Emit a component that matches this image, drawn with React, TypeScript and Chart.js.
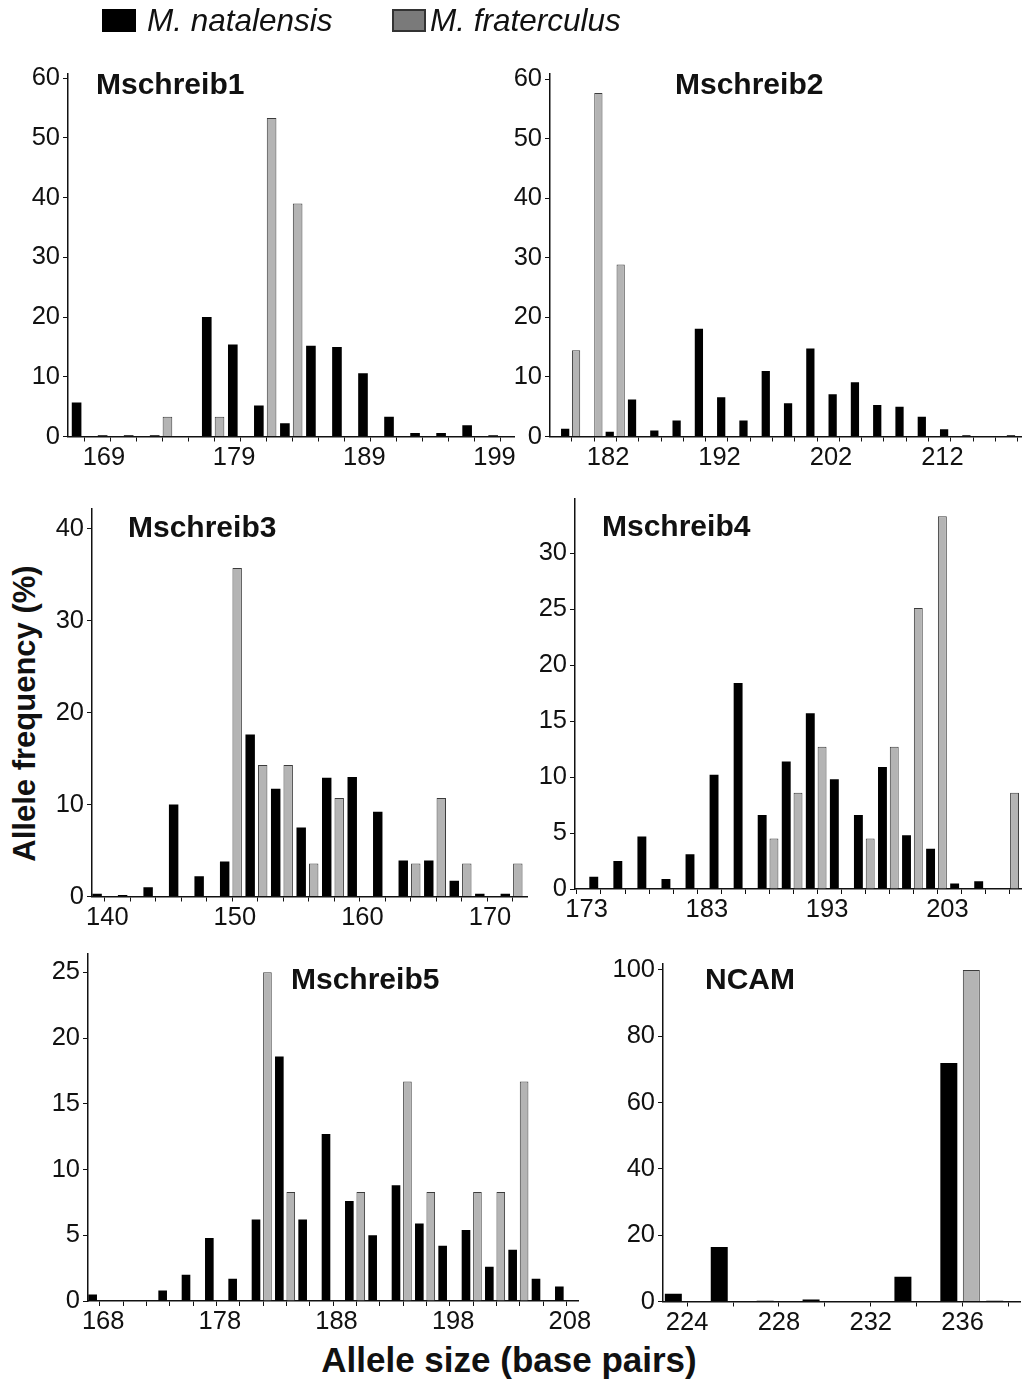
import React, { useEffect, useRef } from "react";
import { Chart, registerables } from "chart.js";

Chart.register(...registerables);

const FONT = '"Liberation Sans", Arial, Helvetica, sans-serif';
const INK = "#111111";
const BLACK_BAR = "#000000";
const GREY_BAR = "#b4b4b4";
const GREY_EDGE = "#3c3c3c";
const CLUSTER = 0.11;

const seriesNames = ["M. natalensis", "M. fraterculus"];

// Mschreib1 (bins named by their left edge)
const m1Alleles = [167, 169, 171, 173, 175, 177, 179, 181, 183, 185, 187, 189, 191, 193, 195, 197, 199];
const m1Nat = [5.7, 0.2, 0.2, 0.2, 0, 20.0, 15.4, 5.2, 2.2, 15.2, 15.0, 10.6, 3.3, 0.6, 0.6, 1.9, 0.2];
const m1Fra = [0, 0, 0, 3.3, 0, 3.3, 0, 53.3, 39.0, 0, 0, 0, 0, 0, 0, 0, 0];
const m1Labels = [169, 179, 189, 199];

// Mschreib2 (bins named by their left edge)
const m2Alleles = [178, 180, 182, 184, 186, 188, 190, 192, 194, 196, 198, 200, 202, 204, 206, 208, 210, 212, 214, 216, 218];
const m2Nat = [1.3, 0, 0.8, 6.2, 1.0, 2.7, 18.1, 6.6, 2.7, 11.0, 5.6, 14.8, 7.1, 9.1, 5.3, 5.0, 3.3, 1.2, 0.2, 0, 0.2];
const m2Fra = [14.5, 57.7, 28.9, 0, 0, 0, 0, 0, 0, 0, 0, 0, 0, 0, 0, 0, 0, 0, 0, 0, 0];
const m2Labels = [182, 192, 202, 212];

// Mschreib3 (bins named by their centre)
const m3Alleles = [140, 142, 144, 146, 148, 150, 152, 154, 156, 158, 160, 162, 164, 166, 168, 170, 172];
const m3Nat = [0.3, 0.15, 1.0, 10.0, 2.2, 3.8, 17.6, 11.7, 7.5, 12.9, 13.0, 9.2, 3.9, 3.9, 1.7, 0.3, 0.3];
const m3Fra = [0, 0, 0, 0, 0, 35.7, 14.3, 14.3, 3.6, 10.7, 0, 0, 3.6, 10.7, 3.6, 0, 3.6];
const m3Labels = [140, 150, 160, 170];

// Mschreib4 (bins named by their left edge)
const m4Alleles = [173, 175, 177, 179, 181, 183, 185, 187, 189, 191, 193, 195, 197, 199, 201, 203, 205, 207];
const m4Nat = [1.1, 2.5, 4.7, 0.9, 3.1, 10.2, 18.4, 6.6, 11.4, 15.7, 9.8, 6.6, 10.9, 4.8, 3.6, 0.5, 0.7, 0];
const m4Fra = [0, 0, 0, 0, 0, 0, 0, 4.5, 8.6, 12.7, 0, 4.5, 12.7, 25.1, 33.3, 0, 0, 8.6];
const m4Labels = [173, 183, 193, 203];

// Mschreib5 (bins named by their centre)
const m5Alleles = [168, 170, 172, 174, 176, 178, 180, 182, 184, 186, 188, 190, 192, 194, 196, 198, 200, 202, 204, 206, 208];
const m5Nat = [0.5, 0, 0, 0.8, 2.0, 4.8, 1.7, 6.2, 18.6, 6.2, 12.7, 7.6, 5.0, 8.8, 5.9, 4.2, 5.4, 2.6, 3.9, 1.7, 1.1];
const m5Fra = [0, 0, 0, 0, 0, 0, 0, 25.0, 8.3, 0, 0, 8.3, 0, 16.7, 8.3, 0, 8.3, 8.3, 16.7, 0, 0];
const m5Labels = [168, 178, 188, 198, 208];

// NCAM (bins named by their centre)
const ncAlleles = [224, 226, 228, 230, 232, 234, 236, 238];
const ncNat = [2.3, 16.4, 0.2, 0.6, 0, 7.5, 71.9, 0.2];
const ncFra = [0, 0, 0, 0, 0, 0, 100, 0];
const ncLabels = [224, 228, 232, 236];

type Panel = {
  title: string;
  alleles: number[];
  nat: number[];
  fra: number[];
  labels: number[];
  anchor: "start" | "centre";
  xMin: number;
  xMax: number;
  yMax: number;
  yStep: number;
  labelShift: number;
  box: [number, number, number, number];
  area: [number, number, number, number];
  titleAt: [number, number];
};

const panels: Panel[] = [
  { title: "Mschreib1", alleles: m1Alleles, nat: m1Nat, fra: m1Fra, labels: m1Labels, anchor: "start",
    xMin: 166.74, xMax: 201, yMax: 60.8, yStep: 10, labelShift: 0.5,
    box: [20, 55, 500, 430], area: [68, 60, 514, 436.5], titleAt: [96, 69] },
  { title: "Mschreib2", alleles: m2Alleles, nat: m2Nat, fra: m2Fra, labels: m2Labels, anchor: "start",
    xMin: 177.04, xMax: 219.3, yMax: 61, yStep: 10, labelShift: 0.25,
    box: [500, 55, 522, 430], area: [550, 63, 1021, 436.5], titleAt: [675, 69] },
  { title: "Mschreib3", alleles: m3Alleles, nat: m3Nat, fra: m3Fra, labels: m3Labels, anchor: "centre",
    xMin: 139, xMax: 173.1, yMax: 42.2, yStep: 10, labelShift: 0.2,
    box: [45, 490, 490, 445], area: [92, 500, 527, 896.5], titleAt: [128, 512] },
  { title: "Mschreib4", alleles: m4Alleles, nat: m4Nat, fra: m4Fra, labels: m4Labels, anchor: "start",
    xMin: 171.84, xMax: 209, yMax: 34.9, yStep: 5, labelShift: -0.2,
    box: [525, 480, 497, 450], area: [575, 488, 1022, 889], titleAt: [602, 511] },
  { title: "Mschreib5", alleles: m5Alleles, nat: m5Nat, fra: m5Fra, labels: m5Labels, anchor: "centre",
    xMin: 167, xMax: 209, yMax: 26.45, yStep: 5, labelShift: 0.3,
    box: [40, 935, 560, 405], area: [88, 941, 578, 1301], titleAt: [291, 964] },
  { title: "NCAM", alleles: ncAlleles, nat: ncNat, fra: ncFra, labels: ncLabels, anchor: "centre",
    xMin: 222.95, xMax: 238.5, yMax: 102, yStep: 20, labelShift: 0,
    box: [600, 945, 422, 395], area: [663, 955, 1020, 1301.5], titleAt: [705, 964] },
];

function PanelChart({ p }: { p: Panel }) {
  const ref = useRef<HTMLCanvasElement | null>(null);
  useEffect(() => {
    const canvas = ref.current;
    if (!canvas) return;
    const [cx, cy, cw, ch] = p.box;
    const [L, T, R, B] = p.area;
    const startAnchor = p.anchor === "start";
    const barOffset = (startAnchor ? 1 : 0) - CLUSTER;
    const edges = p.alleles.map((a) => (startAnchor ? a : a - 1));
    edges.push(edges[edges.length - 1] + 2);
    const shownEdges = edges.filter((e) => e >= p.xMin - 1e-6 && e <= p.xMax + 1e-6);
    const toPoints = (vals: number[]) =>
      p.alleles.map((a, i) => ({ x: a, y: vals[i] > 0 ? vals[i] : null }));
    const tickFont = { family: FONT, size: 25.5 };

    const chart = new Chart(canvas, {
      type: "bar",
      data: {
        datasets: [
          {
            label: seriesNames[0],
            data: toPoints(p.nat),
            xAxisID: "xb",
            yAxisID: "y",
            backgroundColor: BLACK_BAR,
            borderWidth: 0,
            categoryPercentage: 0.98,
            barPercentage: 0.755,
          },
          {
            label: seriesNames[1],
            data: toPoints(p.fra),
            xAxisID: "xb",
            yAxisID: "y",
            backgroundColor: GREY_BAR,
            borderColor: GREY_EDGE,
            borderWidth: 1,
            categoryPercentage: 0.98,
            barPercentage: 0.755,
          },
        ],
      } as any,
      options: {
        responsive: false,
        animation: false,
        devicePixelRatio: 1,
        events: [],
        layout: { padding: { left: 0, top: T - cy, right: cx + cw - R, bottom: 0 } },
        plugins: { legend: { display: false }, tooltip: { enabled: false }, title: { display: false } },
        scales: {
          xb: {
            type: "linear",
            axis: "x",
            position: "bottom",
            weight: 2,
            display: false,
            offset: false,
            min: p.xMin - barOffset,
            max: p.xMax - barOffset,
            ticks: { stepSize: 10 },
          },
          xt: {
            type: "linear",
            axis: "x",
            position: "bottom",
            weight: 0,
            offset: false,
            min: p.xMin,
            max: p.xMax,
            border: { display: true, color: INK, width: 1.5 },
            grid: { display: true, drawOnChartArea: false, drawTicks: true, tickLength: 5, color: INK, lineWidth: 1 },
            ticks: { display: false },
            afterBuildTicks: (s: any) => {
              s.ticks = shownEdges.map((v) => ({ value: v }));
            },
            afterFit: (s: any) => {
              s.height = 6;
            },
          },
          xl: {
            type: "linear",
            axis: "x",
            position: "bottom",
            weight: 1,
            offset: false,
            min: p.xMin - p.labelShift,
            max: p.xMax - p.labelShift,
            border: { display: false },
            grid: { display: false, drawTicks: false },
            ticks: {
              autoSkip: false,
              maxRotation: 0,
              minRotation: 0,
              padding: 0,
              font: tickFont,
              color: INK,
              callback: (v: any) => String(v),
            },
            afterBuildTicks: (s: any) => {
              s.ticks = p.labels.map((v) => ({ value: v }));
            },
            afterFit: (s: any) => {
              s.height = cy + ch - B - 6;
            },
          },
          y: {
            type: "linear",
            position: "left",
            min: 0,
            max: p.yMax,
            border: { display: true, color: INK, width: 1.5 },
            grid: { display: true, drawOnChartArea: false, drawTicks: true, tickLength: 5, color: INK, lineWidth: 1 },
            ticks: { stepSize: p.yStep, includeBounds: false, font: tickFont, color: INK, padding: 3 },
            afterFit: (s: any) => {
              s.width = L - cx;
            },
          },
        },
      } as any,
    });
    return () => chart.destroy();
  }, [p]);

  const [cx, cy, cw, ch] = p.box;
  return (
    <canvas
      ref={ref}
      width={cw}
      height={ch}
      style={{ position: "absolute", left: cx, top: cy, width: cw, height: ch }}
    />
  );
}

export default function App() {
  const textBase: React.CSSProperties = {
    position: "absolute",
    whiteSpace: "nowrap",
    fontFamily: FONT,
    color: INK,
  };
  return (
    <div
      style={{
        position: "absolute",
        left: 0,
        top: 0,
        width: 1022,
        height: 1379,
        background: "#ffffff",
        overflow: "hidden",
      }}
    >
      {panels.map((p) => (
        <PanelChart key={p.title} p={p} />
      ))}
      {panels.map((p) => (
        <div
          key={"title-" + p.title}
          style={{ ...textBase, left: p.titleAt[0], top: p.titleAt[1], fontSize: 30, lineHeight: "30px", fontWeight: "bold" }}
        >
          {p.title}
        </div>
      ))}

      {/* legend */}
      <div style={{ position: "absolute", left: 102, top: 9, width: 34, height: 23, background: BLACK_BAR }} />
      <div style={{ ...textBase, left: 147, top: 5, fontSize: 31.5, lineHeight: "31.5px", fontStyle: "italic" }}>
        {seriesNames[0]}
      </div>
      <div
        style={{
          position: "absolute",
          left: 392,
          top: 9,
          width: 34,
          height: 23,
          background: "#7a7a7a",
          border: "2px solid #333333",
          boxSizing: "border-box",
        }}
      />
      <div style={{ ...textBase, left: 430, top: 5, fontSize: 31.5, lineHeight: "31.5px", fontStyle: "italic" }}>
        {seriesNames[1]}
      </div>

      {/* axis titles */}
      <div
        style={{
          ...textBase,
          left: 24 - 200,
          top: 713 - 15.5,
          width: 400,
          height: 31,
          textAlign: "center",
          fontSize: 31,
          lineHeight: "31px",
          fontWeight: "bold",
          transform: "rotate(-90deg)",
          transformOrigin: "50% 50%",
        }}
      >
        Allele frequency (%)
      </div>
      <div
        style={{
          ...textBase,
          left: 509 - 300,
          top: 1342,
          width: 600,
          textAlign: "center",
          fontSize: 35,
          lineHeight: "35px",
          fontWeight: "bold",
        }}
      >
        Allele size (base pairs)
      </div>
    </div>
  );
}
